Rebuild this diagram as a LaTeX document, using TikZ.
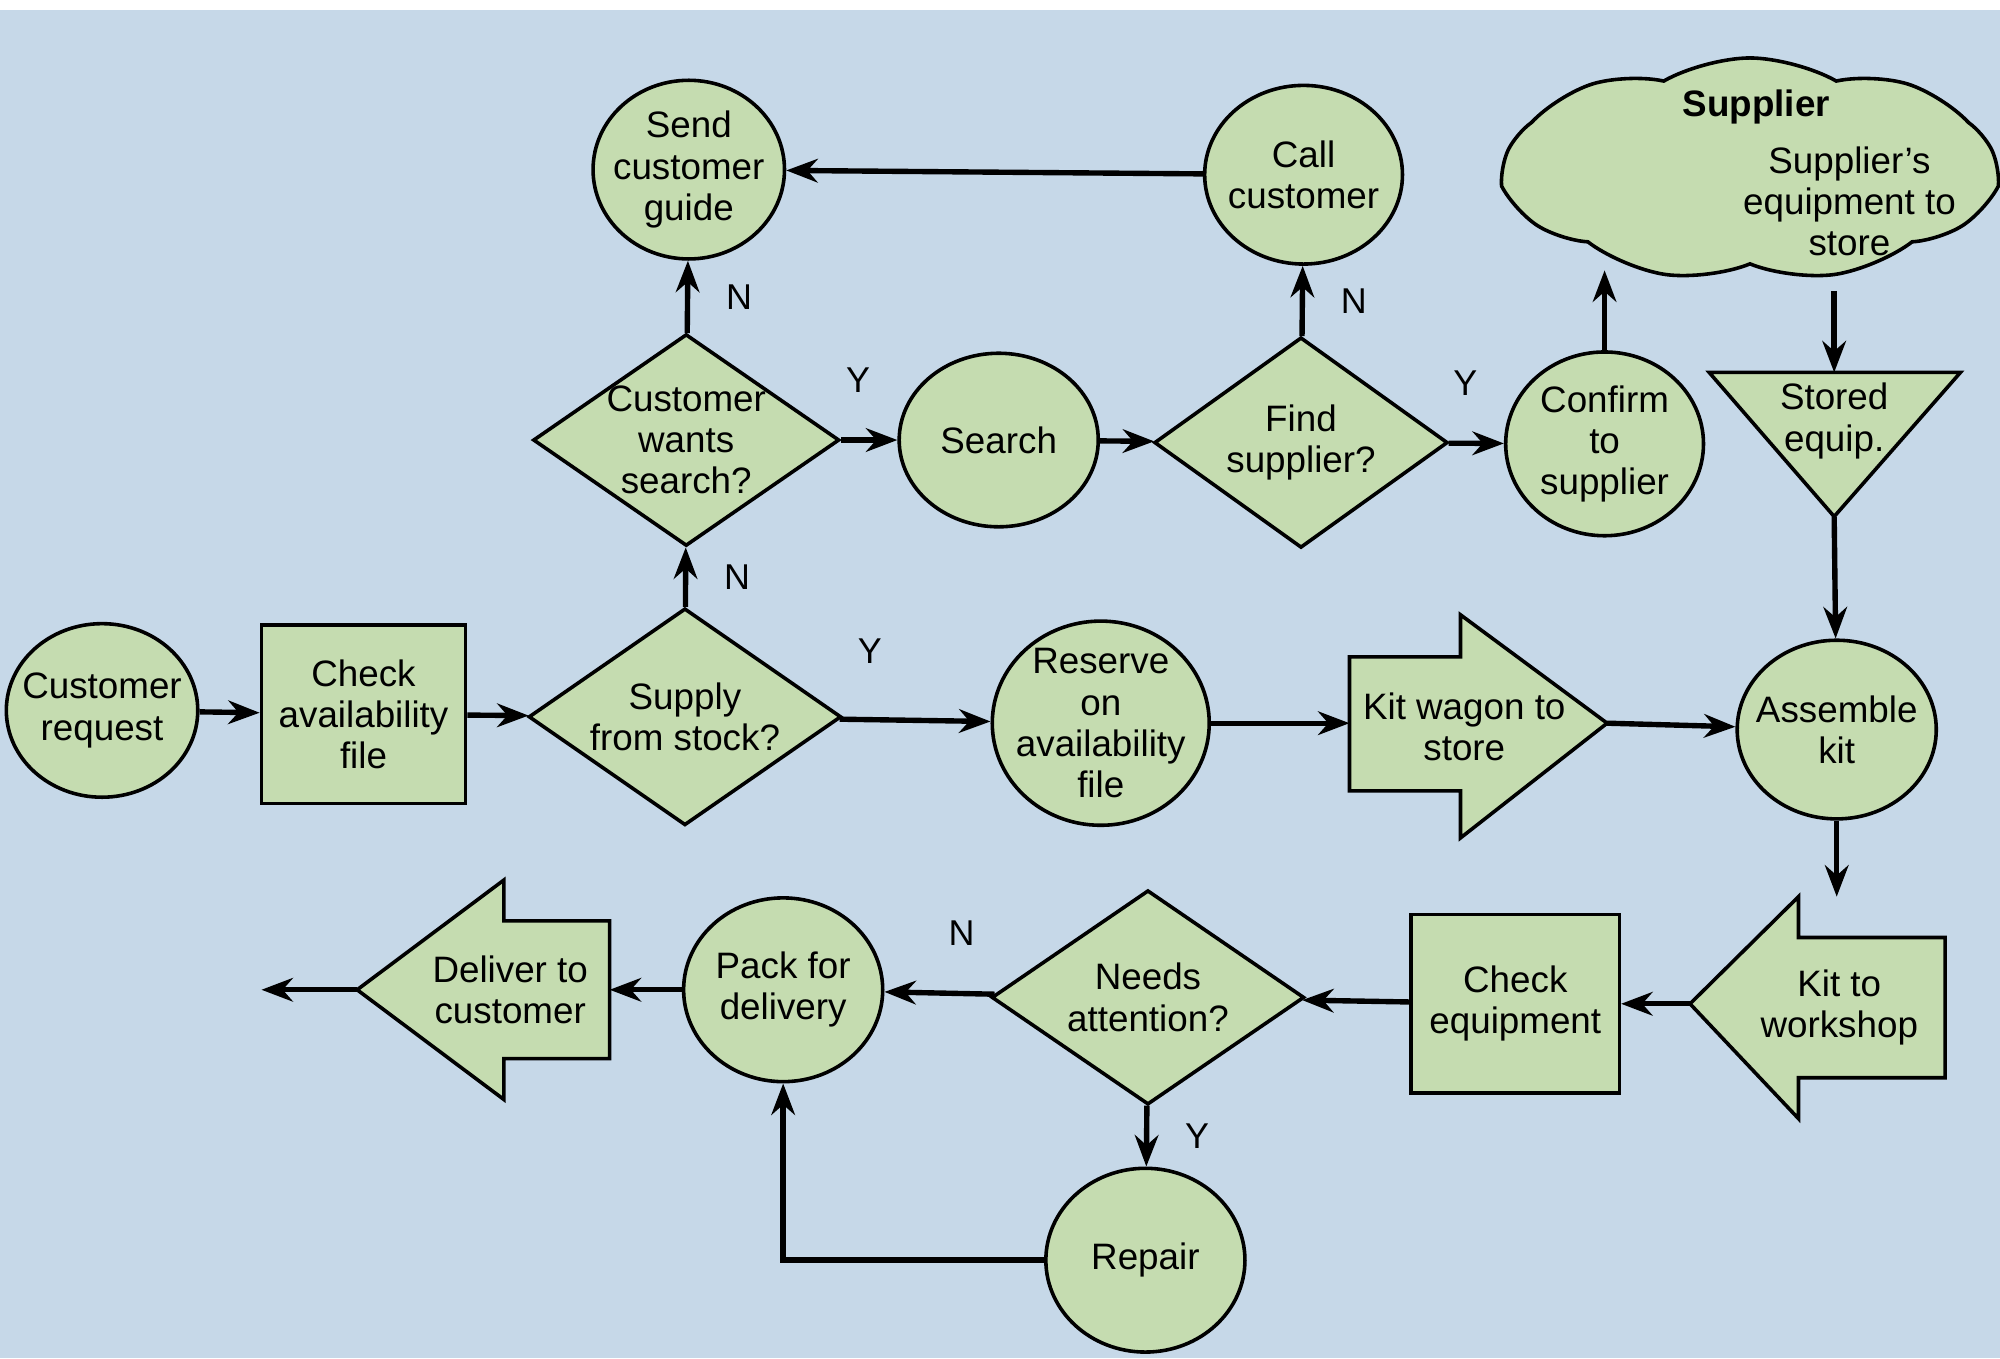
\documentclass[tikz,border=0pt]{standalone}
\usepackage{fontspec}
\setmainfont{Liberation Sans}
\usetikzlibrary{arrows.meta, shapes.geometric, shapes.symbols, positioning}

\definecolor{bgblue}{HTML}{C6D8E8}
\definecolor{leaf}{HTML}{C5DCB0}

\begin{document}
\begin{tikzpicture}[
  x=0.01cm, y=-0.01cm,
  font=\fontsize{8.2}{9.2}\selectfont,
  every node/.style={align=center, inner sep=0pt},
  blob/.style={draw, thick, fill=leaf, ellipse, inner sep=-6pt, minimum width=1.55cm, minimum height=1.4cm},
  box/.style={draw, thick, fill=leaf, rectangle, minimum width=1.6cm, minimum height=1.4cm},
  choice/.style={draw, thick, fill=leaf, diamond, inner sep=-8pt, minimum width=2.4cm, minimum height=1.66cm},
  outline/.style={draw, thick, fill=leaf},
  arrow/.style={-{Stealth[length=7pt]}, line width=1.2pt},
  tag/.style={font=\fontsize{8}{9}\selectfont}
]
\useasboundingbox (0,0) rectangle (1568,1065);
\fill[bgblue] (0,0) rectangle (1568,1065);
\fill[white] (0,0) rectangle (1568,8);

% Nodes
\node[blob, minimum width=1.5cm, minimum height=1.36cm] (request) at (80,557) {Customer\\request};
\node[box] (check) at (285,560) {Check\\availability\\file};
\node[choice, minimum width=2.45cm, minimum height=1.7cm] (stock) at (537,562) {Supply\\from stock?};
\node[choice] (wants) at (538,345) {Customer\\wants\\search?};
\node[blob, minimum width=1.5cm] (guide) at (540,133) {Send\\customer\\guide};
\node[blob, minimum width=1.56cm, minimum height=1.36cm] (search) at (783,345) {Search};
\node[choice, minimum width=2.3cm, minimum height=1.65cm] (find) at (1020,347) {Find\\supplier?};
\node[blob] (call) at (1022,137) {Call\\customer};
\node[blob, minimum height=1.44cm] (confirm) at (1258,348) {Confirm\\to\\supplier};
\node[draw, thick, fill=leaf, cloud, cloud puffs=9, cloud puff arc=60, aspect=2.2,
  minimum width=3.85cm, minimum height=1.75cm] (supplier) at (1372,133) {};
\node[font=\fontsize{8.2}{9.2}\selectfont\bfseries] at (1377,84) {Supplier};
\node at (1450,158) {Supplier's\\equipment to\\store};
% stored equipment triangle
\coordinate (storedtop) at (1438,292);
\coordinate (storedtip) at (1438,405);
\draw[outline] (1340,292) -- (1537,292) -- (storedtip) -- cycle;
\node at (1438,330) {Stored\\equip.};
\node[blob, minimum width=1.7cm, minimum height=1.6cm] (reserve) at (863,567) {Reserve\\on\\availability\\file};
% kit wagon arrow
\coordinate (wagonin) at (1058,567);
\coordinate (wagontip) at (1260,567);
\draw[outline] (1058,515) -- (1145,515) -- (1145,482) -- (wagontip) -- (1145,657) -- (1145,620) -- (1058,620) -- cycle;
\node at (1148,570) {Kit wagon to\\store};
\node[blob, minimum width=1.56cm] (assemble) at (1440,572) {Assemble\\kit};
% kit to workshop arrow
\coordinate (worktop) at (1440,703);
\coordinate (worktip) at (1325,787);
\draw[outline] (1525,735) -- (1410,735) -- (1410,703) -- (worktip) -- (1410,877) -- (1410,845) -- (1525,845) -- cycle;
\node at (1442,790) {Kit to\\workshop};
\node[box, minimum width=1.63cm] (equip) at (1188,787) {Check\\equipment};
\node[choice, minimum width=2.45cm, minimum height=1.68cm] (attention) at (900,782) {Needs\\attention?};
\node[blob, minimum width=1.56cm, minimum height=1.44cm] (repair) at (898,988) {Repair};
\node[blob, minimum width=1.56cm, minimum height=1.44cm] (pack) at (614,776) {Pack for\\delivery};
% deliver arrow
\coordinate (deliverin) at (478,776);
\coordinate (delivertip) at (280,776);
\coordinate (out) at (205,776);
\draw[outline] (478,722) -- (395,722) -- (395,690) -- (delivertip) -- (395,862) -- (395,830) -- (478,830) -- cycle;
\node at (400,776) {Deliver to\\customer};

% Arrows
\draw[arrow] (request) -- (check);
\draw[arrow] (check) -- (stock);
\draw[arrow] (stock) -- node[tag, above=12pt, pos=0.2] {Y} (reserve);
\draw[arrow] (stock) -- node[tag, right=8pt] {N} (wants);
\draw[arrow] (wants) -- node[tag, right=8pt] {N} (guide);
\draw[arrow] (wants) -- node[tag, above=10pt, pos=0.3] {Y} (search);
\draw[arrow] (search) -- (find);
\draw[arrow] (find) -- node[tag, right=8pt] {N} (call);
\draw[arrow] (call) -- (guide);
\draw[arrow] (find) -- node[tag, above=10pt, pos=0.3] {Y} (confirm);
\draw[arrow] (confirm) -- (1258,212);
\draw[arrow] (1438,228) -- (storedtop);
\draw[arrow] (storedtip) -- (assemble);
\draw[arrow] (reserve) -- (wagonin);
\draw[arrow] (wagontip) -- (assemble);
\draw[arrow] (assemble) -- (worktop);
\draw[arrow] (worktip) -- (equip);
\draw[arrow] (equip) -- (attention);
\draw[arrow] (attention) -- node[tag, above=10pt, pos=0.3] {N} (pack);
\draw[arrow] (attention) -- node[tag, right=8pt] {Y} (repair);
\draw[arrow] (repair) -| (pack);
\draw[arrow] (pack) -- (deliverin);
\draw[arrow] (delivertip) -- (out);
\end{tikzpicture}
\end{document}
